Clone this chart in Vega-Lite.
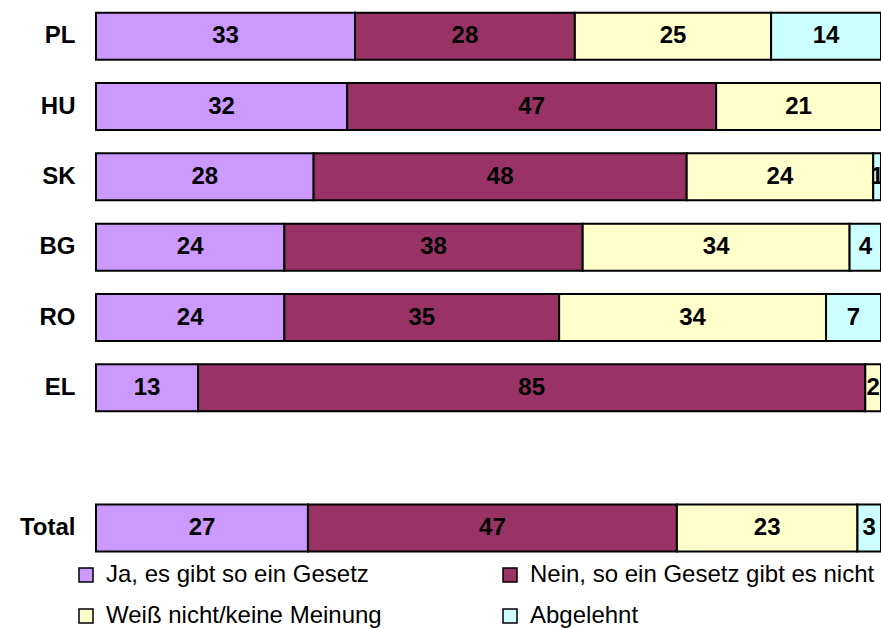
{
  "$schema": "https://vega.github.io/schema/vega-lite/v6.json",
  "padding": {"left": 0, "top": 1, "right": 0, "bottom": 0},
  "background": "white",
  "datasets": {
    "d": [
      {"c": "PL", "k": 1, "cat": "Ja, es gibt so ein Gesetz", "v": 33},
      {"c": "PL", "k": 2, "cat": "Nein, so ein Gesetz gibt es nicht", "v": 28},
      {"c": "PL", "k": 3, "cat": "Weiß nicht/keine Meinung", "v": 25},
      {"c": "PL", "k": 4, "cat": "Abgelehnt", "v": 14},
      {"c": "HU", "k": 1, "cat": "Ja, es gibt so ein Gesetz", "v": 32},
      {"c": "HU", "k": 2, "cat": "Nein, so ein Gesetz gibt es nicht", "v": 47},
      {"c": "HU", "k": 3, "cat": "Weiß nicht/keine Meinung", "v": 21},
      {"c": "SK", "k": 1, "cat": "Ja, es gibt so ein Gesetz", "v": 28},
      {"c": "SK", "k": 2, "cat": "Nein, so ein Gesetz gibt es nicht", "v": 48},
      {"c": "SK", "k": 3, "cat": "Weiß nicht/keine Meinung", "v": 24},
      {"c": "SK", "k": 4, "cat": "Abgelehnt", "v": 1},
      {"c": "BG", "k": 1, "cat": "Ja, es gibt so ein Gesetz", "v": 24},
      {"c": "BG", "k": 2, "cat": "Nein, so ein Gesetz gibt es nicht", "v": 38},
      {"c": "BG", "k": 3, "cat": "Weiß nicht/keine Meinung", "v": 34},
      {"c": "BG", "k": 4, "cat": "Abgelehnt", "v": 4},
      {"c": "RO", "k": 1, "cat": "Ja, es gibt so ein Gesetz", "v": 24},
      {"c": "RO", "k": 2, "cat": "Nein, so ein Gesetz gibt es nicht", "v": 35},
      {"c": "RO", "k": 3, "cat": "Weiß nicht/keine Meinung", "v": 34},
      {"c": "RO", "k": 4, "cat": "Abgelehnt", "v": 7},
      {"c": "EL", "k": 1, "cat": "Ja, es gibt so ein Gesetz", "v": 13},
      {"c": "EL", "k": 2, "cat": "Nein, so ein Gesetz gibt es nicht", "v": 85},
      {"c": "EL", "k": 3, "cat": "Weiß nicht/keine Meinung", "v": 2},
      {"c": "Total", "k": 1, "cat": "Ja, es gibt so ein Gesetz", "v": 27},
      {"c": "Total", "k": 2, "cat": "Nein, so ein Gesetz gibt es nicht", "v": 47},
      {"c": "Total", "k": 3, "cat": "Weiß nicht/keine Meinung", "v": 23},
      {"c": "Total", "k": 4, "cat": "Abgelehnt", "v": 3}
    ]
  },
  "data": {"name": "d"},
  "transform": [
    {"stack": "v", "groupby": ["c"], "sort": [{"field": "k", "order": "ascending"}], "offset": "normalize", "as": ["v0", "v1"]}
  ],
  "spacing": 70,
  "resolve": {"scale": {"y": "independent"}},
  "vconcat": [
    {
      "width": 785,
      "height": 422,
      "transform": [{"filter": "datum.c !== 'Total'"}],
      "encoding": {
        "y": {"field": "c", "type": "nominal", "sort": ["PL", "HU", "SK", "BG", "RO", "EL"], "title": null,
              "scale": {"paddingInner": 0, "paddingOuter": 0}}
      },
      "layer": [
        {
          "mark": {"type": "bar", "size": 47, "stroke": "black", "strokeWidth": 2},
          "encoding": {
            "x": {"field": "v0", "type": "quantitative", "scale": {"domain": [0, 1], "nice": false, "zero": false}, "axis": null},
            "x2": {"field": "v1"},
            "color": {"field": "cat", "type": "nominal",
              "scale": {"domain": ["Ja, es gibt so ein Gesetz", "Nein, so ein Gesetz gibt es nicht", "Weiß nicht/keine Meinung", "Abgelehnt"],
                        "range": ["#CC99FF", "#993366", "#FFFFCC", "#CCFFFF"]},
              "legend": {"orient": "none", "legendX": -22, "legendY": 562, "columns": 2, "direction": "horizontal", "columnPadding": 116, "rowPadding": 17,
                         "title": null, "symbolType": "square", "symbolSize": 196, "symbolStrokeColor": "black", "symbolStrokeWidth": 1.5,
                         "labelFont": "Liberation Sans", "labelFontSize": 24, "labelColor": "black", "labelOffset": 8, "labelLimit": 500}
            }
          }
        },
        {
          "transform": [
            {"fold": ["v0", "v1"], "as": ["kk", "pos"]},
            {"aggregate": [{"op": "mean", "field": "pos", "as": "mid"}], "groupby": ["c", "cat", "v"]}
          ],
          "mark": {"type": "text", "font": "Liberation Sans", "fontWeight": "bold", "fontSize": 24, "color": "black", "baseline": "middle", "align": "center"},
          "encoding": {
            "x": {"field": "mid", "type": "quantitative", "scale": {"domain": [0, 1], "nice": false, "zero": false}, "axis": null},
            "text": {"field": "v", "type": "quantitative"}
          }
        }
      ]
    },
    {
      "width": 785,
      "height": 70,
      "transform": [{"filter": "datum.c === 'Total'"}],
      "encoding": {
        "y": {"field": "c", "type": "nominal", "title": null, "scale": {"paddingInner": 0, "paddingOuter": 0}}
      },
      "layer": [
        {
          "mark": {"type": "bar", "size": 47, "stroke": "black", "strokeWidth": 2},
          "encoding": {
            "x": {"field": "v0", "type": "quantitative", "scale": {"domain": [0, 1], "nice": false, "zero": false}, "axis": null},
            "x2": {"field": "v1"},
            "color": {"field": "cat", "type": "nominal",
              "scale": {"domain": ["Ja, es gibt so ein Gesetz", "Nein, so ein Gesetz gibt es nicht", "Weiß nicht/keine Meinung", "Abgelehnt"],
                        "range": ["#CC99FF", "#993366", "#FFFFCC", "#CCFFFF"]}}
          }
        },
        {
          "transform": [
            {"fold": ["v0", "v1"], "as": ["kk", "pos"]},
            {"aggregate": [{"op": "mean", "field": "pos", "as": "mid"}], "groupby": ["c", "cat", "v"]}
          ],
          "mark": {"type": "text", "font": "Liberation Sans", "fontWeight": "bold", "fontSize": 24, "color": "black", "baseline": "middle", "align": "center"},
          "encoding": {
            "x": {"field": "mid", "type": "quantitative", "scale": {"domain": [0, 1], "nice": false, "zero": false}, "axis": null},
            "text": {"field": "v", "type": "quantitative"}
          }
        }
      ]
    }
  ],
  "config": {
    "view": {"stroke": null},
    "axisY": {"labelFont": "Liberation Sans", "labelFontWeight": "bold", "labelFontSize": 24, "labelColor": "black",
              "ticks": false, "domain": false, "labelPadding": 21, "minExtent": 96, "maxExtent": 96, "grid": false}
  }
}
